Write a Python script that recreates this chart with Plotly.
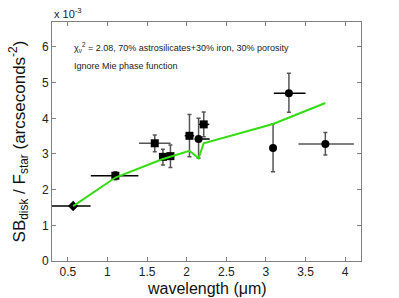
import plotly.graph_objects as go

# Data (values in units of 1e-3 arcsec^-2)
wavelength = [0.567, 1.10, 1.597, 1.70, 1.795, 2.035, 2.15, 2.215, 3.09, 3.29, 3.75]
sb_ratio   = [1.54, 2.39, 3.30, 2.92, 2.94, 3.51, 3.42, 3.83, 3.17, 4.70, 3.28]
err_y_plus  = [0.05, 0.11, 0.23, 0.21, 0.31, 0.60, 0.58, 0.35, 0.67, 0.56, 0.32]
err_y_minus = [0.05, 0.11, 0.24, 0.23, 0.32, 0.59, 0.54, 0.35, 0.67, 0.53, 0.31]
err_x_plus  = [0.22, 0.29, 0.20, 0.0, 0.0, 0.06, 0.14, 0.07, 0.04, 0.21, 0.36]
err_x_minus = [0.32, 0.31, 0.20, 0.0, 0.0, 0.06, 0.05, 0.06, 0.04, 0.19, 0.34]
symbols = ["diamond", "square", "square", "square", "square", "square",
           "circle", "square", "circle", "circle", "circle"]
err_x_color = ["#000000", "#000000", "#555555", "#000000", "#000000", "#000000",
               "#000000", "#000000", "#000000", "#000000", "#555555"]
err_y_color = ["#555555", "#555555", "#555555", "#555555", "#555555", "#555555",
               "#555555", "#555555", "#555555", "#555555", "#555555"]

model_wavelength = [0.567, 1.10, 1.70, 2.035, 2.15, 2.215, 3.09, 3.75]
model_value      = [1.54, 2.34, 2.86, 3.09, 2.88, 3.30, 3.84, 4.43]

x_ticks = [0.5, 1, 1.5, 2, 2.5, 3, 3.5, 4]
y_ticks = [0, 1, 2, 3, 4, 5, 6]

fig = go.Figure()

for i in range(len(wavelength)):
    fig.add_trace(go.Scatter(
        x=[wavelength[i]], y=[sb_ratio[i]], mode="markers",
        marker=dict(symbol=symbols[i], size=8 if symbols[i] != "diamond" else 8, color="black"),
        error_x=dict(type="data", symmetric=False, array=[err_x_plus[i]], arrayminus=[err_x_minus[i]],
                     color=err_x_color[i], thickness=1.5, width=0),
        error_y=dict(type="data", symmetric=False, array=[err_y_plus[i]], arrayminus=[err_y_minus[i]],
                     color=err_y_color[i], thickness=1.5, width=2),
        showlegend=False, cliponaxis=False, hoverinfo="skip",
    ))

fig.add_trace(go.Scatter(
    x=model_wavelength, y=model_value, mode="lines",
    line=dict(color="#33dd11", width=2), showlegend=False, hoverinfo="skip",
))

axis_common = dict(showgrid=False, zeroline=False, showline=True, linecolor="#808080", linewidth=1,
                   mirror="ticks", ticks="inside", ticklen=4, tickcolor="#808080",
                   tickfont=dict(family="Liberation Sans, Arial", size=12, color="#222222"))

fig.update_layout(
    width=399, height=298,
    margin=dict(l=52, r=38, t=22, b=37),
    paper_bgcolor="white", plot_bgcolor="white",
    xaxis=dict(range=[0.3, 4.2], tickvals=x_ticks, ticktext=[str(v) for v in x_ticks], **axis_common),
    yaxis=dict(range=[0, 6.7], tickvals=y_ticks, ticktext=[str(v) for v in y_ticks], **axis_common),
    font=dict(family="Liberation Sans, Arial", color="#222222"),
    annotations=[
        dict(text="χ<sub>ν</sub><sup>2</sup> = 2.08, 70% astrosilicates+30% iron, 30% porosity",
             xref="paper", yref="paper", x=0.065, y=0.895, xanchor="left", yanchor="middle",
             showarrow=False, font=dict(size=9, color="#222222")),
        dict(text="Ignore Mie phase function",
             xref="paper", yref="paper", x=0.065, y=0.815, xanchor="left", yanchor="middle",
             showarrow=False, font=dict(size=9, color="#222222")),
        dict(text="x 10<sup>-3</sup>", xref="paper", yref="paper", x=0.0, y=1.0,
             xanchor="left", yanchor="bottom", showarrow=False, font=dict(size=11, color="#222222")),
        dict(text="SB<sub>disk</sub> / F<sub>star</sub> (arcseconds<sup>-2</sup>)",
             xref="paper", yref="paper", x=-0.06, y=0.5, xanchor="right", yanchor="middle",
             textangle=-90, showarrow=False, font=dict(size=17, color="#111111")),
        dict(text="wavelength (μm)", xref="paper", yref="paper", x=0.5, y=-0.115,
             xanchor="center", yanchor="middle", showarrow=False, font=dict(size=16, color="#111111")),
    ],
)

fig.write_html("out.html", config={"displayModeBar": False},
               post_script="document.body.style.margin='0';document.body.style.overflow='hidden';")
